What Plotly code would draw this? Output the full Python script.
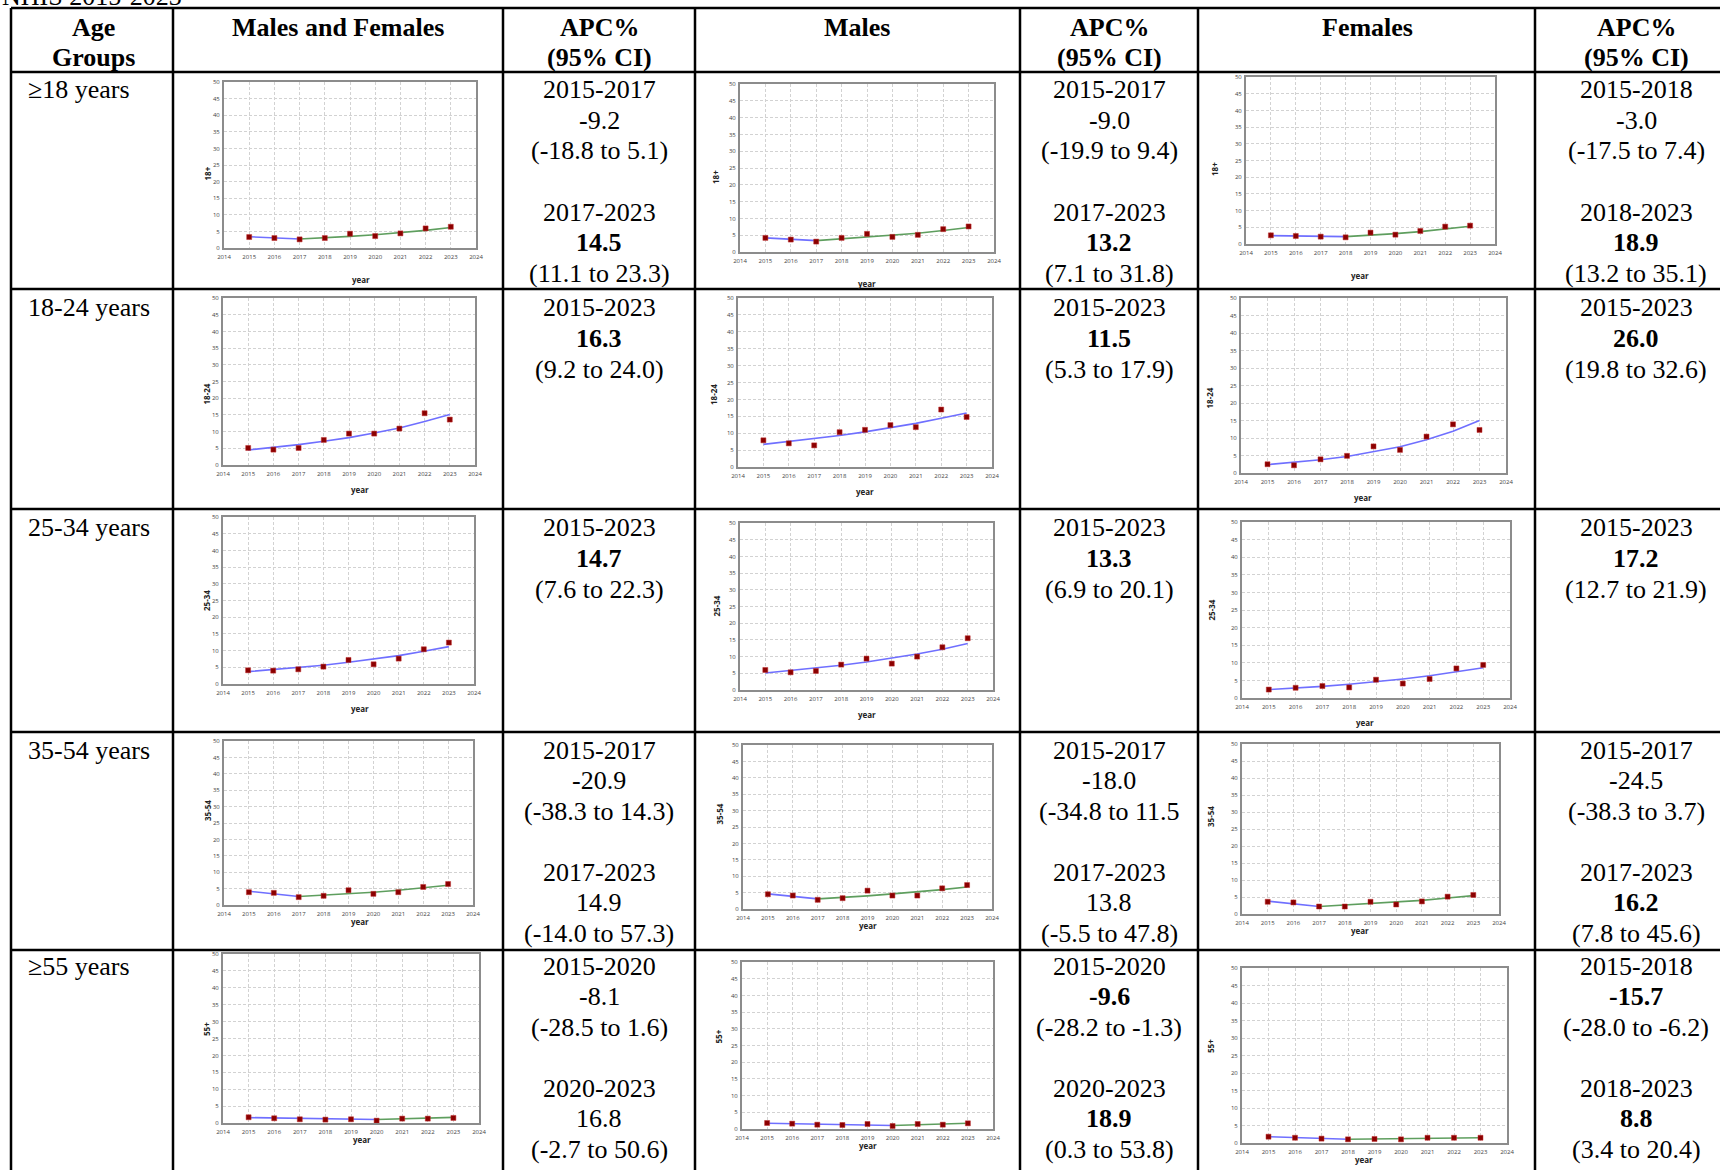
import plotly.graph_objects as go

W, H = 1720, 1170

YEARS = [2015, 2016, 2017, 2018, 2019, 2020, 2021, 2022, 2023]

AGE_GROUPS = ['≥18 years', '18-24 years', '25-34 years', '35-54 years', '≥55 years']
AXIS_TITLES = ['18+', '18-24', '25-34', '35-54', '55+']

# ── observed prevalence (dark red squares) ──────────────────────────────
OBS_18_BOTH = [3.3, 3.0, 2.6, 3.0, 4.3, 3.6, 4.4, 5.9, 6.4]
OBS_18_MALE = [4.2, 3.7, 3.1, 4.2, 5.4, 4.5, 5.1, 6.8, 7.6]
OBS_18_FEMALE = [2.6, 2.4, 2.2, 2.0, 3.4, 2.8, 3.9, 5.2, 5.5]
OBS_1824_BOTH = [5.1, 4.6, 5.1, 7.5, 9.4, 9.4, 10.9, 15.5, 13.6]
OBS_1824_MALE = [7.9, 7.0, 6.4, 10.3, 11.0, 12.4, 11.8, 17.0, 14.8]
OBS_1824_FEMALE = [2.5, 2.2, 3.9, 4.9, 7.6, 6.6, 10.4, 13.9, 12.3]
OBS_2534_BOTH = [4.1, 4.0, 4.4, 5.2, 7.2, 5.9, 7.6, 10.4, 12.4]
OBS_2534_MALE = [6.0, 5.3, 5.7, 7.6, 9.4, 7.9, 10.0, 12.8, 15.5]
OBS_2534_FEMALE = [2.4, 2.9, 3.4, 3.0, 5.2, 4.1, 5.4, 8.4, 9.4]
OBS_3554_BOTH = [3.9, 3.7, 2.4, 2.8, 4.5, 3.4, 3.9, 5.5, 6.4]
OBS_3554_MALE = [4.5, 4.1, 2.8, 3.3, 5.6, 4.1, 4.1, 6.3, 7.3]
OBS_3554_FEMALE = [3.6, 3.4, 2.2, 2.2, 3.6, 2.8, 3.7, 5.1, 5.6]
OBS_55_BOTH = [1.7, 1.4, 1.1, 1.0, 1.1, 0.7, 1.3, 1.3, 1.5]
OBS_55_MALE = [1.8, 1.6, 1.3, 1.2, 1.5, 0.9, 1.5, 1.3, 1.7]
OBS_55_FEMALE = [1.8, 1.5, 1.25, 1.05, 1.15, 1.05, 1.5, 1.5, 1.5]

# ── joinpoint fitted values (blue = first segment, green = second) ───────
FIT_18_BOTH = [3.4, 3.0, 2.7, 3.0, 3.5, 4.0, 4.6, 5.3, 6.2]
FIT_18_MALE = [4.2, 3.8, 3.4, 3.9, 4.4, 5.0, 5.6, 6.4, 7.3]
FIT_18_FEMALE = [2.5, 2.4, 2.3, 2.2, 2.6, 3.1, 3.7, 4.4, 5.3]
FIT_1824_BOTH = [4.5, 5.2, 6.1, 7.1, 8.2, 9.6, 11.1, 13.0, 15.1]
FIT_1824_MALE = [6.7, 7.5, 8.3, 9.3, 10.4, 11.6, 12.9, 14.4, 16.0]
FIT_1824_FEMALE = [2.4, 3.0, 3.8, 4.7, 6.0, 7.5, 9.5, 11.9, 15.0]
FIT_2534_BOTH = [3.7, 4.3, 4.9, 5.6, 6.5, 7.4, 8.5, 9.8, 11.2]
FIT_2534_MALE = [5.1, 5.8, 6.6, 7.4, 8.4, 9.5, 10.8, 12.2, 13.9]
FIT_2534_FEMALE = [2.4, 2.8, 3.3, 3.9, 4.6, 5.4, 6.3, 7.4, 8.6]
FIT_3554_BOTH = [4.2, 3.3, 2.6, 3.0, 3.4, 3.9, 4.5, 5.2, 6.0]
FIT_3554_MALE = [4.6, 3.8, 3.1, 3.5, 4.0, 4.6, 5.2, 5.9, 6.7]
FIT_3554_FEMALE = [3.8, 2.9, 2.2, 2.6, 3.0, 3.5, 4.0, 4.7, 5.4]
FIT_55_BOTH = [1.6, 1.5, 1.35, 1.25, 1.15, 1.05, 1.23, 1.43, 1.67]
FIT_55_MALE = [1.7, 1.54, 1.39, 1.26, 1.14, 1.03, 1.22, 1.46, 1.73]
FIT_55_FEMALE = [1.8, 1.52, 1.28, 1.08, 1.18, 1.28, 1.39, 1.51, 1.51]

# joinpoint year for each chart (None = single segment)
JOIN_18 = [2017, 2017, 2018]
JOIN_1824 = [None, None, None]
JOIN_2534 = [None, None, None]
JOIN_3554 = [2017, 2017, 2017]
JOIN_55 = [2020, 2020, 2018]

# ── APC% (95% CI) cells: (period, apc, ci, significant) ────────────────
APC_18 = [
    [('2015-2017', '-9.2', '(-18.8 to 5.1)', False), ('2017-2023', '14.5', '(11.1 to 23.3)', True)],
    [('2015-2017', '-9.0', '(-19.9 to 9.4)', False), ('2017-2023', '13.2', '(7.1 to 31.8)', True)],
    [('2015-2018', '-3.0', '(-17.5 to 7.4)', False), ('2018-2023', '18.9', '(13.2 to 35.1)', True)],
]
APC_1824 = [
    [('2015-2023', '16.3', '(9.2 to 24.0)', True)],
    [('2015-2023', '11.5', '(5.3 to 17.9)', True)],
    [('2015-2023', '26.0', '(19.8 to 32.6)', True)],
]
APC_2534 = [
    [('2015-2023', '14.7', '(7.6 to 22.3)', True)],
    [('2015-2023', '13.3', '(6.9 to 20.1)', True)],
    [('2015-2023', '17.2', '(12.7 to 21.9)', True)],
]
APC_3554 = [
    [('2015-2017', '-20.9', '(-38.3 to 14.3)', False), ('2017-2023', '14.9', '(-14.0 to 57.3)', False)],
    [('2015-2017', '-18.0', '(-34.8 to 11.5', False), ('2017-2023', '13.8', '(-5.5 to 47.8)', False)],
    [('2015-2017', '-24.5', '(-38.3 to 3.7)', False), ('2017-2023', '16.2', '(7.8 to 45.6)', True)],
]
APC_55 = [
    [('2015-2020', '-8.1', '(-28.5 to 1.6)', False), ('2020-2023', '16.8', '(-2.7 to 50.6)', False)],
    [('2015-2020', '-9.6', '(-28.2 to -1.3)', True), ('2020-2023', '18.9', '(0.3 to 53.8)', True)],
    [('2015-2018', '-15.7', '(-28.0 to -6.2)', True), ('2018-2023', '8.8', '(3.4 to 20.4)', True)],
]

OBSERVED = [
    [OBS_18_BOTH, OBS_18_MALE, OBS_18_FEMALE],
    [OBS_1824_BOTH, OBS_1824_MALE, OBS_1824_FEMALE],
    [OBS_2534_BOTH, OBS_2534_MALE, OBS_2534_FEMALE],
    [OBS_3554_BOTH, OBS_3554_MALE, OBS_3554_FEMALE],
    [OBS_55_BOTH, OBS_55_MALE, OBS_55_FEMALE],
]
FITTED = [
    [FIT_18_BOTH, FIT_18_MALE, FIT_18_FEMALE],
    [FIT_1824_BOTH, FIT_1824_MALE, FIT_1824_FEMALE],
    [FIT_2534_BOTH, FIT_2534_MALE, FIT_2534_FEMALE],
    [FIT_3554_BOTH, FIT_3554_MALE, FIT_3554_FEMALE],
    [FIT_55_BOTH, FIT_55_MALE, FIT_55_FEMALE],
]
JOINS = [JOIN_18, JOIN_1824, JOIN_2534, JOIN_3554, JOIN_55]
APCS = [APC_18, APC_1824, APC_2534, APC_3554, APC_55]

# ── layout geometry (pixels) ─────────────────────────────────────────────
# plot area per chart: x at 2014, x at 2024, y at 50, y at 0
PLOT_BOXES = [
    [(224, 476, 82, 248), (740, 994, 84, 252), (1246, 1495, 77, 244)],
    [(223, 475, 298, 465), (738, 992, 298, 467), (1241, 1506, 298, 473)],
    [(223, 474, 517, 684), (740, 993, 523, 690), (1242, 1510, 522, 698)],
    [(224, 473, 741, 905), (743, 992, 745, 909), (1242, 1499, 744, 914)],
    [(223, 479, 954, 1123), (742, 993, 962, 1129), (1242, 1507, 968, 1143)],
]
COL_LINES = [11, 173, 503, 695, 1020, 1198, 1535]
ROW_LINES = [8, 72, 289, 509, 732, 950]
ROW_TEXT_TOP = [90, 308, 528, 750, 966]
APC_CENTERS = [599, 1109, 1636]

SERIF = 'Liberation Serif, Times New Roman, serif'
SANS = 'Open Sans, Verdana, sans-serif'
BLUE = '#6f6fff'
GREEN = '#5e9e5e'
RED = '#8b0000'


def px(x):
    return x / W


def py(y):
    return 1 - y / H


fig = go.Figure()
annotations = []
shapes = []
layout_axes = {}

# ── small charts ─────────────────────────────────────────────────────────
k = 0
for r in range(5):
    for c in range(3):
        k += 1
        xa = 'x' if k == 1 else f'x{k}'
        ya = 'y' if k == 1 else f'y{k}'
        x0, x1, yt, yb = PLOT_BOXES[r][c]
        obs = OBSERVED[r][c]
        fit = FITTED[r][c]
        join = JOINS[r][c]

        if join is None:
            fig.add_trace(go.Scatter(x=YEARS, y=fit, mode='lines', xaxis=xa, yaxis=ya,
                                     line=dict(color=BLUE, width=1.6), showlegend=False))
        else:
            seg1 = [(yr, v) for yr, v in zip(YEARS, fit) if yr <= join]
            seg2 = [(yr, v) for yr, v in zip(YEARS, fit) if yr >= join]
            fig.add_trace(go.Scatter(x=[p[0] for p in seg1], y=[p[1] for p in seg1],
                                     mode='lines', xaxis=xa, yaxis=ya,
                                     line=dict(color=BLUE, width=1.6), showlegend=False))
            fig.add_trace(go.Scatter(x=[p[0] for p in seg2], y=[p[1] for p in seg2],
                                     mode='lines', xaxis=xa, yaxis=ya,
                                     line=dict(color=GREEN, width=1.6), showlegend=False))

        fig.add_trace(go.Scatter(x=YEARS, y=obs, mode='markers', xaxis=xa, yaxis=ya,
                                 marker=dict(symbol='square', size=5, color=RED,
                                             line=dict(color='#c03030', width=0.5)),
                                 showlegend=False))

        common = dict(showgrid=True, gridcolor='#d2d2d2', griddash='3px,2px', gridwidth=1,
                      showline=True, mirror=True, linecolor='#8c8c8c', linewidth=2,
                      zeroline=False, ticks='', fixedrange=True, automargin=False,
                      tickfont=dict(family=SANS, size=6, color='#444444'))
        layout_axes['xaxis' if k == 1 else f'xaxis{k}'] = dict(
            common, domain=[px(x0), px(x1)], range=[2014, 2024],
            tickmode='linear', tick0=2014, dtick=1, anchor=ya, ticklabelstandoff=2)
        layout_axes['yaxis' if k == 1 else f'yaxis{k}'] = dict(
            common, domain=[py(yb), py(yt)], range=[0, 50],
            tickmode='linear', tick0=0, dtick=5, anchor=xa, ticklabelstandoff=1)

        # axis titles
        annotations.append(dict(x=px(x0 - 24), y=py((yt + yb) / 2), xref='paper', yref='paper',
                                text='<b>' + AXIS_TITLES[r] + '</b>', textangle=-90,
                                showarrow=False, font=dict(family=SANS, size=8, color='#222222')))
        annotations.append(dict(x=px((x0 + x1) / 2), y=py(yb + 24), xref='paper', yref='paper',
                                text='<b>year</b>', showarrow=False,
                                font=dict(family=SANS, size=8, color='#222222')))


def add_text(x, y, text, size=26, bold=False, align='center'):
    annotations.append(dict(
        x=px(x), y=py(y), xref='paper', yref='paper',
        text=('<b>' + text + '</b>') if bold else text,
        showarrow=False, xanchor=align, yanchor='middle',
        font=dict(family=SERIF, size=size, color='black')))


# ── header ───────────────────────────────────────────────────────────────
add_text(0, -4, 'NHIS 2015-2023', align='left')
add_text(93, 27, 'Age', bold=True)
add_text(93, 57, 'Groups', bold=True)
add_text(338, 27, 'Males and Females', bold=True)
add_text(857, 27, 'Males', bold=True)
add_text(1367, 27, 'Females', bold=True)
for cx in APC_CENTERS:
    add_text(cx, 27, 'APC%', bold=True)
    add_text(cx, 57, '(95% CI)', bold=True)

# ── body text ────────────────────────────────────────────────────────────
for r in range(5):
    top = ROW_TEXT_TOP[r]
    add_text(26, top, AGE_GROUPS[r], align='left')
    for c in range(3):
        for s, (period, apc, ci, sig) in enumerate(APCS[r][c]):
            y0 = top + s * 122
            add_text(APC_CENTERS[c], y0, period)
            add_text(APC_CENTERS[c], y0 + 30.5, apc, bold=sig)
            add_text(APC_CENTERS[c], y0 + 61, ci)

# ── table grid lines ─────────────────────────────────────────────────────
for x in COL_LINES:
    shapes.append(dict(type='line', xref='paper', yref='paper',
                       x0=px(x), x1=px(x), y0=py(ROW_LINES[0]), y1=py(H + 20),
                       line=dict(color='black', width=2.5)))
for y in ROW_LINES:
    shapes.append(dict(type='line', xref='paper', yref='paper',
                       x0=px(COL_LINES[0]), x1=px(W + 20), y0=py(y), y1=py(y),
                       line=dict(color='black', width=2.5)))

fig.update_layout(
    width=W, height=H,
    margin=dict(l=0, r=0, t=0, b=0, autoexpand=False),
    paper_bgcolor='white', plot_bgcolor='white',
    showlegend=False,
    annotations=annotations,
    shapes=shapes,
    **layout_axes,
)

# drop the browser's default body margin so the figure sits at the page corner
fig.write_html('out.html', config={'displayModeBar': False},
               post_script="document.body.style.margin='0';")
